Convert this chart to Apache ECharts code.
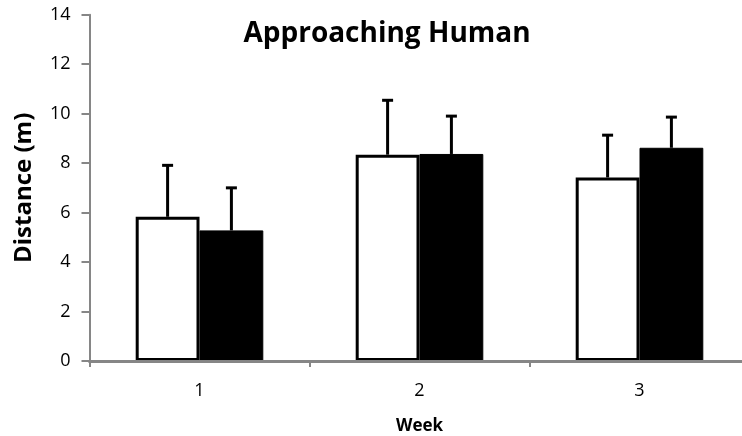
<!DOCTYPE html>
<html>
<head>
<meta charset="utf-8">
<script src="https://cdn.jsdelivr.net/npm/echarts@6/dist/echarts.min.js"></script>
<style>
html,body{margin:0;padding:0;background:#fff;}
#chart{width:742px;height:436px;}
</style>
</head>
<body>
<div id="chart"></div>
<script>
var weeks = ['1', '2', '3'];
var whiteMeans = [5.83, 8.34, 7.42];
var whiteErr = [2.08, 2.20, 1.71];
var blackMeans = [5.28, 8.37, 8.62];
var blackErr = [1.72, 1.53, 1.24];
var yTicks = [0, 2, 4, 6, 8, 10, 12, 14];

var FONT = 'Open Sans';
var BAR_W = 0.29; // fraction of category width

function errSeries(means, errs, offsetSign) {
  return {
    type: 'custom',
    z: 10,
    data: means.map(function (m, i) { return [i, m, m + errs[i]]; }),
    renderItem: function (params, api) {
      var i = api.value(0);
      var base = api.coord([i, api.value(1)]);
      var top = api.coord([i, api.value(2)]);
      var cw = api.size([1, 0])[0];
      var x = base[0] + offsetSign * cw * BAR_W / 2;
      var capHalf = 5.5;
      return {
        type: 'group',
        children: [
          { type: 'line', shape: { x1: x, y1: base[1], x2: x, y2: top[1] },
            style: { stroke: '#000', lineWidth: 3 } },
          { type: 'line', shape: { x1: x - capHalf, y1: top[1], x2: x + capHalf, y2: top[1] },
            style: { stroke: '#000', lineWidth: 3 } }
        ]
      };
    }
  };
}

var chart = echarts.init(document.getElementById('chart'), null, { renderer: 'canvas' });
chart.setOption({
  animation: false,
  backgroundColor: '#fff',
  title: {
    text: 'Approaching Human',
    left: 382, top: 15, textAlign: 'center',
    textStyle: { fontFamily: FONT, fontWeight: 'bold', fontSize: 28, color: '#000' }
  },
  grid: { left: 89.5, right: -7.5, top: 14.7, bottom: 75, containLabel: false, outerBoundsMode: 'none' },
  xAxis: {
    type: 'category',
    data: weeks,
    z: 5,
    name: 'Week',
    nameLocation: 'middle',
    nameGap: 57,
    nameTextStyle: { fontFamily: FONT, fontWeight: 'bold', fontSize: 17, color: '#000' },
    axisLine: { lineStyle: { color: '#868686', width: 3 } },
    axisTick: { show: true, length: 6, lineStyle: { color: '#868686', width: 2 } },
    axisLabel: { fontFamily: FONT, fontSize: 18, color: '#000', margin: 21 }
  },
  yAxis: {
    type: 'value',
    min: 0, max: 14, interval: 2,
    z: 5,
    name: 'Distance (m)',
    nameLocation: 'middle',
    nameGap: 53,
    nameRotate: 90,
    nameTextStyle: { fontFamily: FONT, fontWeight: 'bold', fontSize: 24, color: '#000' },
    splitLine: { show: false },
    axisLine: { show: true, lineStyle: { color: '#868686', width: 2 } },
    axisTick: { show: true, length: 8, lineStyle: { color: '#868686', width: 2 } },
    axisLabel: {
      fontFamily: FONT, fontSize: 18, color: '#000', margin: 19,
      formatter: function (v) { return yTicks.indexOf(v) >= 0 ? String(v) : ''; }
    }
  },
  series: [
    {
      name: 'White', type: 'bar', data: whiteMeans,
      barWidth: (BAR_W * 100) + '%', barGap: '0%',
      itemStyle: { color: '#fff', borderColor: '#000', borderWidth: 3 }
    },
    {
      name: 'Black', type: 'bar', data: blackMeans,
      barWidth: (BAR_W * 100) + '%', barGap: '0%',
      itemStyle: { color: '#000', borderColor: '#000', borderWidth: 1 }
    },
    errSeries(whiteMeans, whiteErr, -1),
    errSeries(blackMeans, blackErr, 1)
  ]
});
</script>
</body>
</html>
